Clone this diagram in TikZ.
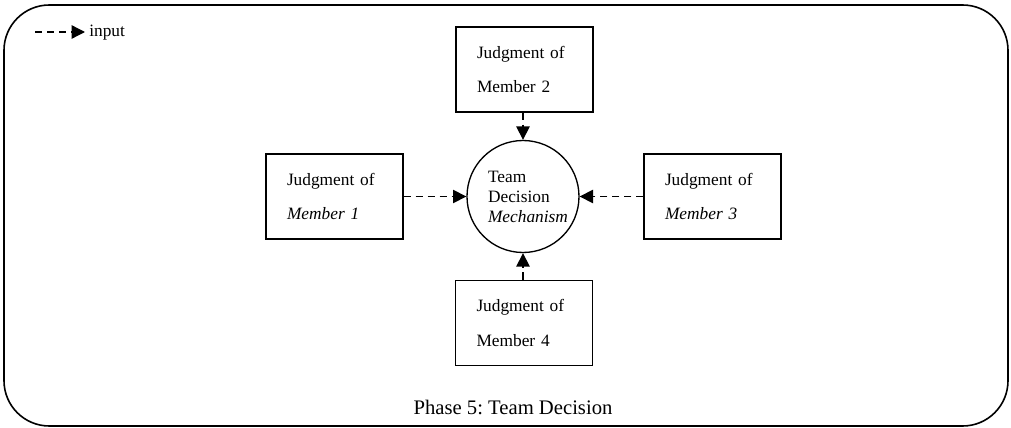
\documentclass[tikz,border=0pt]{standalone}
\usepackage{fontspec}
\setmainfont{Liberation Serif}
\frenchspacing
\usetikzlibrary{arrows.meta}
\begin{document}
\begin{tikzpicture}[x=0.75pt,y=-0.75pt,
  frame/.style={line width=1.2pt, rounded corners=34pt},
  memberbox/.style={draw, line width=1.1pt, rectangle, minimum width=102.75pt, minimum height=63.75pt, text width=71.25pt, inner xsep=15.75pt, inner ysep=0pt, align=left, font=\fontsize{13}{26}\selectfont},
  hub/.style={draw, circle, line width=1pt, minimum size=84pt, inner sep=0pt},
  hubtext/.style={align=left, inner sep=0pt, font=\fontsize{13}{15}\selectfont},
  inarrow/.style={dash pattern=on 5.5pt off 3.5pt, line width=1pt, -{Triangle[length=10pt,width=10pt]}},
]
\useasboundingbox (0,0) rectangle (1011,428);
\draw[frame] (4,5) rectangle (1008,426);

% legend
\coordinate (legA) at (35,32);
\coordinate (legB) at (85,32);
\draw[inarrow] (legA) -- (legB);
\node[anchor=west, font=\fontsize{13}{15}\selectfont, inner sep=0pt] (legtext) at (89,33) {input};

% nodes
\node[hub] (hub) at (523,196.5) {};
\node[hubtext] (hubtxt) at (528,196.5) {Team\\Decision\\\textit{Mechanism}};
\node[memberbox] (m1) at (334.5,196.5) {Judgment of\\\textit{Member 1}};
\node[memberbox] (m2) at (524.5,69.5) {Judgment of\\Member 2};
\node[memberbox] (m3) at (712.5,196.5) {Judgment of\\\textit{Member 3}};
\node[memberbox] (m4) at (524,323) {Judgment of\\Member 4};

% connectors
\draw[inarrow] (m1.east) -- (hub.west);
\draw[inarrow] (m3.west) -- (hub.east);
\draw[inarrow] (m2.south -| hub.north) -- (hub.north);
\draw[inarrow] (m4.north -| hub.south) -- (hub.south);

% caption
\node[font=\fontsize{15.5}{18}\selectfont] (caption) at (513,407) {Phase 5: Team Decision};
\end{tikzpicture}
\end{document}
